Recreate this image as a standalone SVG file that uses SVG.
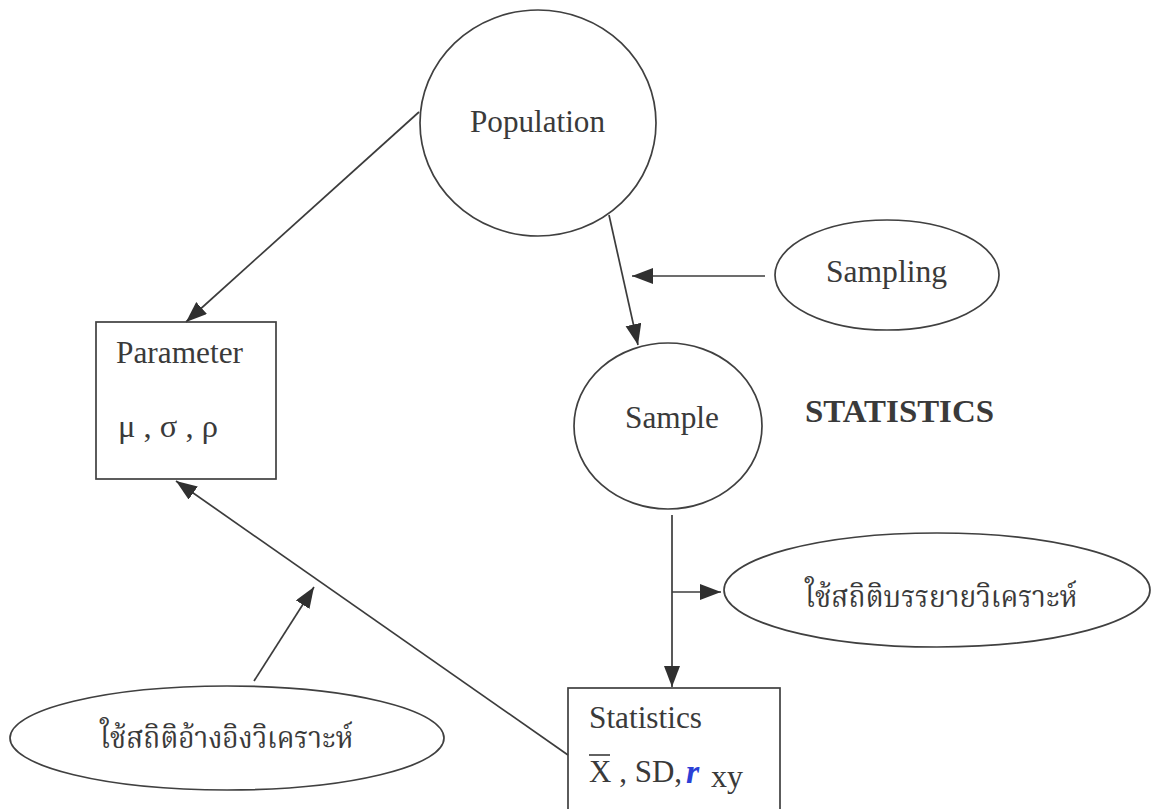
<svg xmlns="http://www.w3.org/2000/svg" width="1156" height="809" viewBox="0 0 1156 809">
<defs>
<style>
.shape{fill:none;stroke:#404040;stroke-width:1.7}
.edge{fill:none;stroke:#3c3c3c;stroke-width:1.7}
.lbl{font-family:"Liberation Serif","Times New Roman",serif;font-size:31px;fill:#3a3a3a}
.thai{font-family:"Noto Serif Thai","Noto Sans Thai","Loma","Garuda","Norasi","Liberation Serif",serif;font-size:30px;fill:#3a3a3a}
.bold{font-weight:bold}
</style>
<marker id="arr" markerUnits="userSpaceOnUse" markerWidth="24" markerHeight="18" refX="21" refY="8" orient="auto">
<path d="M0,0 L21,8 L0,16 Z" fill="#303030"/>
</marker>
</defs>
<rect width="1156" height="809" fill="#ffffff"/>

<g id="connectors">
<line class="edge" x1="419" y1="112" x2="186" y2="322" marker-end="url(#arr)"/>
<line class="edge" x1="609" y1="215" x2="638" y2="345" marker-end="url(#arr)"/>
<line class="edge" x1="765" y1="276" x2="632" y2="276" marker-end="url(#arr)"/>
<line class="edge" x1="672" y1="515" x2="672" y2="687" marker-end="url(#arr)"/>
<line class="edge" x1="672" y1="592" x2="721" y2="592" marker-end="url(#arr)"/>
<line class="edge" x1="568" y1="755" x2="176" y2="481" marker-end="url(#arr)"/>
<line class="edge" x1="254" y1="681" x2="314" y2="587" marker-end="url(#arr)"/>
</g>

<g id="population">
<ellipse class="shape" cx="538" cy="123" rx="118" ry="113"/>
<text class="lbl" x="470" y="132" textLength="135" lengthAdjust="spacingAndGlyphs">Population</text>
</g>

<g id="parameter">
<rect class="shape" x="96" y="322" width="180" height="157"/>
<text class="lbl" x="116" y="363" textLength="127" lengthAdjust="spacingAndGlyphs">Parameter</text>
<text class="lbl" x="118" y="437" textLength="100" lengthAdjust="spacingAndGlyphs">μ , σ , ρ</text>
</g>

<g id="sampling">
<ellipse class="shape" cx="887" cy="275" rx="112" ry="55"/>
<text class="lbl" x="826" y="282" textLength="121" lengthAdjust="spacingAndGlyphs">Sampling</text>
</g>

<g id="sample">
<ellipse class="shape" cx="668" cy="426" rx="94" ry="83"/>
<text class="lbl" x="625" y="428" textLength="94" lengthAdjust="spacingAndGlyphs">Sample</text>
</g>

<g id="title">
<text class="lbl bold" x="805" y="422" font-size="27" textLength="189" lengthAdjust="spacingAndGlyphs">STATISTICS</text>
</g>

<g id="descriptive">
<ellipse class="shape" cx="937" cy="590" rx="213" ry="57"/>
<text class="thai" x="805" y="607" textLength="272" lengthAdjust="spacingAndGlyphs">ใช้สถิติบรรยายวิเคราะห์</text>
</g>

<g id="inferential">
<ellipse class="shape" cx="227" cy="738" rx="217" ry="52"/>
<text class="thai" x="100" y="748" textLength="253" lengthAdjust="spacingAndGlyphs">ใช้สถิติอ้างอิงวิเคราะห์</text>
</g>

<g id="statistics">
<rect class="shape" x="568" y="688" width="212" height="140"/>
<text class="lbl" x="589" y="728" textLength="113" lengthAdjust="spacingAndGlyphs">Statistics</text>
<line x1="589" y1="755" x2="610" y2="755" stroke="#3a3a3a" stroke-width="1.6"/>
<text class="lbl" x="589" y="782">X , SD,</text>
<text x="686" y="783" font-family="Liberation Serif, serif" font-size="34" font-style="italic" font-weight="bold" fill="#2b3fd6">r</text>
<text class="lbl" x="711" y="787" textLength="32" lengthAdjust="spacingAndGlyphs">xy</text>
</g>
</svg>
